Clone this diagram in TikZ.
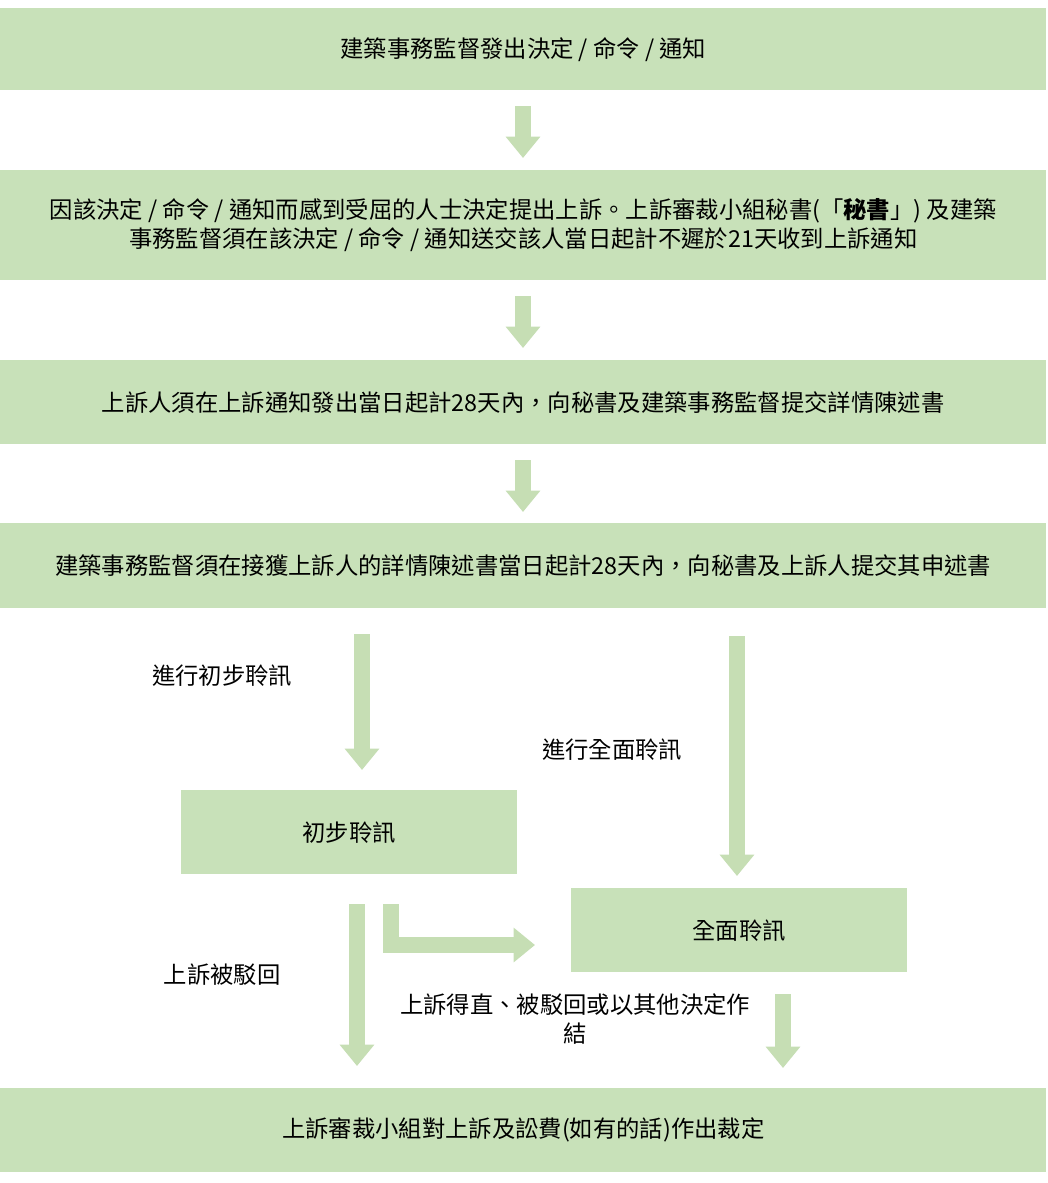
\documentclass[tikz,border=0pt]{standalone}
\usepackage{fontspec}
\setmainfont{Noto Sans CJK TC}
\usetikzlibrary{arrows.meta}
\definecolor{boxgreen}{HTML}{C8E1B9}
\definecolor{arrowgreen}{HTML}{C6DEB4}
\tikzset{
  stagebox/.style={fill=boxgreen, draw=none, anchor=north west, inner sep=0pt,
    align=center, font=\fontsize{17.5}{22}\selectfont},
  blockarrow/.style={draw=arrowgreen, line width=12pt,
    -{Triangle[length=16pt,width=25pt]}},
  lbl/.style={font=\fontsize{17.5}{22}\selectfont, align=center},
}
\begin{document}
\begin{tikzpicture}[x=0.75pt,y=-0.75pt]
  \useasboundingbox (0,0) rectangle (1048,1183);
  \node[stagebox, minimum width=1046*0.75pt, minimum height=82*0.75pt] (decision) at (0,8) {建築事務監督發出決定 / 命令 / 通知};
  \node[stagebox, minimum width=1046*0.75pt, minimum height=110*0.75pt] (notice) at (0,170)
    {因該決定 / 命令 / 通知而感到受屈的人士決定提出上訴。上訴審裁小組秘書(「\textbf{秘書}」) 及建築\\
     事務監督須在該決定 / 命令 / 通知送交該人當日起計不遲於21天收到上訴通知};
  \node[stagebox, minimum width=1046*0.75pt, minimum height=84*0.75pt] (statement) at (0,360) {上訴人須在上訴通知發出當日起計28天內，向秘書及建築事務監督提交詳情陳述書};
  \node[stagebox, minimum width=1046*0.75pt, minimum height=85*0.75pt] (reply) at (0,523) {建築事務監督須在接獲上訴人的詳情陳述書當日起計28天內，向秘書及上訴人提交其申述書};
  \node[stagebox, minimum width=336*0.75pt, minimum height=84*0.75pt] (prelim) at (181,790) {初步聆訊};
  \node[stagebox, minimum width=336*0.75pt, minimum height=84*0.75pt] (full) at (571,888) {全面聆訊};
  \node[stagebox, minimum width=1046*0.75pt, minimum height=84*0.75pt] (ruling) at (0,1088) {上訴審裁小組對上訴及訟費(如有的話)作出裁定};

  \coordinate (a1) at (523,106); \coordinate (b1) at (523,158);
  \coordinate (a2) at (523,296); \coordinate (b2) at (523,348);
  \coordinate (a3) at (523,460); \coordinate (b3) at (523,512);
  \coordinate (a4) at (362,634); \coordinate (b4) at (362,770);
  \coordinate (a5) at (737,636); \coordinate (b5) at (737,876);
  \coordinate (a6) at (357,904); \coordinate (b6) at (357,1066);
  \coordinate (a7) at (391,904); \coordinate (b7) at (535,945);
  \coordinate (a8) at (783,994); \coordinate (b8) at (783,1068);
  \foreach \i in {1,...,6,8}
    \draw[blockarrow] (a\i) -- (b\i);
  \draw[blockarrow] (a7) |- (b7);

  \node[lbl] (toprelim) at (222,676) {進行初步聆訊};
  \node[lbl] (tofull) at (612,750) {進行全面聆訊};
  \node[lbl] (dismissed) at (222,975) {上訴被駁回};
  \node[lbl] (decided) at (575,1019) {上訴得直、被駁回或以其他決定作\\結};
\end{tikzpicture}
\end{document}
